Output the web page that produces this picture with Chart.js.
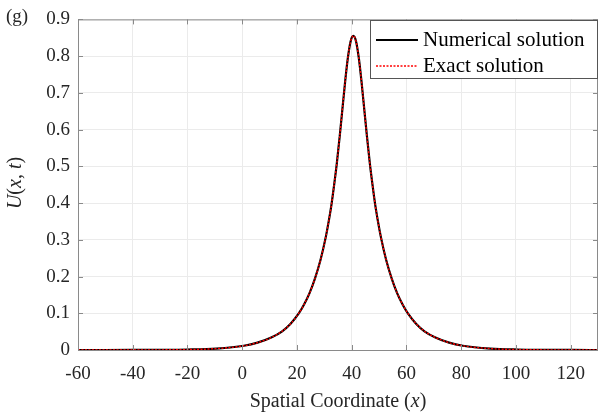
<!DOCTYPE html>
<html>
<head>
<meta charset="utf-8">
<script src="https://cdn.jsdelivr.net/npm/chart.js@4.4.1/dist/chart.umd.min.js"></script>
<style>
html, body { margin: 0; padding: 0; background: #fff; }
#wrap { width: 600px; height: 419px; }
</style>
</head>
<body>
<div id="wrap"><canvas id="myChart"></canvas></div>
<script>
// values
var xValues = [-60, -50, -40, -30, -20, -9.4, 0.6, 5.6, 10.6, 14.6, 17.6, 20.6, 22.6, 24.6, 26.6, 28.6, 30.6, 31.6, 32.6, 33.6, 34.6, 35.6, 36.6, 37.6, 38.6, 39.6,
               40.6,
               41.6, 42.6, 43.6, 44.6, 45.6, 46.6, 47.6, 48.6, 49.6, 50.6, 52.6, 54.6, 56.6, 58.6, 60.6, 63.6, 66.6, 70.6, 75.6, 80.6, 90.6, 100.6, 110.6, 120.6, 130];
var numericalValues = [0, 0.00004, 0.00012, 0.0004, 0.0012, 0.0038, 0.0115, 0.02, 0.034, 0.051, 0.071, 0.099, 0.124, 0.155, 0.195, 0.245, 0.31, 0.35, 0.395, 0.45, 0.51, 0.58, 0.655, 0.73, 0.795, 0.84,
                       0.855,
                       0.84, 0.795, 0.73, 0.655, 0.58, 0.51, 0.45, 0.395, 0.35, 0.31, 0.245, 0.195, 0.155, 0.124, 0.099, 0.071, 0.051, 0.034, 0.02, 0.0115, 0.0038, 0.0012, 0.0004, 0.00012, 0.00004];
var exactValues = [0, 0.00004, 0.00012, 0.0004, 0.0012, 0.0038, 0.0115, 0.02, 0.034, 0.051, 0.071, 0.099, 0.124, 0.155, 0.195, 0.245, 0.31, 0.35, 0.395, 0.45, 0.51, 0.58, 0.655, 0.73, 0.795, 0.84,
                   0.855,
                   0.84, 0.795, 0.73, 0.655, 0.58, 0.51, 0.45, 0.395, 0.35, 0.31, 0.245, 0.195, 0.155, 0.124, 0.099, 0.071, 0.051, 0.034, 0.02, 0.0115, 0.0038, 0.0012, 0.0004, 0.00012, 0.00004];
var xTicks = [-60, -40, -20, 0, 20, 40, 60, 80, 100, 120];
var yTicks = [0, 0.1, 0.2, 0.3, 0.4, 0.5, 0.6, 0.7, 0.8, 0.9];
var seriesNames = ['Numerical solution', 'Exact solution'];

var serif = '"Liberation Serif", "Times New Roman", serif';
var textColor = '#262626';

function toPoints(xs, ys) {
    return xs.map(function (x, i) { return { x: x, y: ys[i] }; });
}

// draws text made of normal / italic pieces
function drawParts(ctx, parts, x, y, size) {
    var total = 0;
    parts.forEach(function (p) {
        ctx.font = (p[1] ? 'italic ' : '') + size + 'px ' + serif;
        total += ctx.measureText(p[0]).width;
    });
    var cx = x - total / 2;
    parts.forEach(function (p) {
        ctx.font = (p[1] ? 'italic ' : '') + size + 'px ' + serif;
        ctx.fillText(p[0], cx, y);
        cx += ctx.measureText(p[0]).width;
    });
}

var boxPlugin = {
    id: 'box',
    afterDatasetsDraw: function (chart) {
        var ctx = chart.ctx, a = chart.chartArea;
        var xs = chart.scales.x, ys = chart.scales.y;
        ctx.save();
        ctx.strokeStyle = '#8a8a8a';
        ctx.lineWidth = 1;
        ctx.strokeRect(a.left + 0.5, a.top + 0.5, a.right - a.left - 1, a.bottom - a.top);
        ctx.beginPath();
        xTicks.forEach(function (v) {
            var px = Math.round(xs.getPixelForValue(v)) + 0.5;
            ctx.moveTo(px, a.bottom); ctx.lineTo(px, a.bottom - 5);
            ctx.moveTo(px, a.top); ctx.lineTo(px, a.top + 5);
        });
        yTicks.forEach(function (v) {
            var py = Math.round(ys.getPixelForValue(v)) + 0.5;
            ctx.moveTo(a.left, py); ctx.lineTo(a.left + 5, py);
            ctx.moveTo(a.right, py); ctx.lineTo(a.right - 5, py);
        });
        ctx.stroke();
        ctx.restore();
    },
    afterDraw: function (chart) {
        var ctx = chart.ctx, a = chart.chartArea;
        ctx.save();
        // legend
        var lx = 370, ly = 20, lw = 227, lh = 58;
        ctx.fillStyle = '#fff';
        ctx.fillRect(lx, ly, lw, lh);
        ctx.strokeStyle = '#555';
        ctx.lineWidth = 1;
        ctx.strokeRect(lx + 0.5, ly + 0.5, lw, lh);
        ctx.beginPath();
        ctx.strokeStyle = '#000';
        ctx.lineWidth = 2;
        ctx.moveTo(376, 40); ctx.lineTo(418, 40);
        ctx.stroke();
        ctx.beginPath();
        ctx.strokeStyle = '#ff0000';
        ctx.lineWidth = 1.5;
        ctx.setLineDash([2, 1.5]);
        ctx.moveTo(376, 66); ctx.lineTo(418, 66);
        ctx.stroke();
        ctx.setLineDash([]);
        ctx.fillStyle = '#000';
        ctx.textBaseline = 'middle';
        ctx.textAlign = 'left';
        ctx.font = '21px ' + serif;
        ctx.fillText(seriesNames[0], 423, 40);
        ctx.fillText(seriesNames[1], 423, 66);

        // axis titles
        ctx.fillStyle = textColor;
        drawParts(ctx, [['Spatial Coordinate (', false], ['x', true], [')', false]], (a.left + a.right) / 2, 402, 20);
        ctx.save();
        ctx.translate(16, 183);
        ctx.rotate(-Math.PI / 2);
        drawParts(ctx, [['U', true], ['(', false], ['x', true], [', ', false], ['t', true], [')', false]], 0, 0, 20);
        ctx.restore();

        // panel label
        ctx.font = '19px ' + serif;
        ctx.textAlign = 'left';
        ctx.fillText('(g)', 6, 17);
        ctx.restore();
    }
};

var ctx = document.getElementById('myChart').getContext('2d');
var myChart = new Chart(ctx, {
    type: 'line',
    data: {
        datasets: [{
            label: seriesNames[0],
            data: toPoints(xValues, numericalValues),
            borderColor: '#000000',
            borderWidth: 2.2,
            pointRadius: 0,
            cubicInterpolationMode: 'monotone',
            order: 1,
            clip: 5
        }, {
            label: seriesNames[1],
            data: toPoints(xValues, exactValues),
            borderColor: '#ff0000',
            borderWidth: 1.4,
            borderDash: [2, 1.5],
            pointRadius: 0,
            cubicInterpolationMode: 'monotone',
            order: 0,
            clip: 5
        }]
    },
    options: {
        responsive: true,
        maintainAspectRatio: false,
        animation: false,
        layout: { padding: { left: 0, right: 2, top: 16, bottom: 0 } },
        plugins: {
            legend: { display: false },
            tooltip: { enabled: false }
        },
        scales: {
            x: {
                type: 'linear',
                min: -60,
                max: 130,
                afterBuildTicks: function (scale) {
                    scale.ticks = xTicks.map(function (v) { return { value: v }; });
                },
                afterFit: function (scale) { scale.height = 69; },
                grid: { color: '#ebebeb', drawTicks: false },
                border: { display: false },
                ticks: {
                    padding: 13,
                    maxRotation: 0,
                    autoSkip: false,
                    color: textColor,
                    font: { family: serif, size: 19 }
                }
            },
            y: {
                min: 0,
                max: 0.9,
                afterBuildTicks: function (scale) {
                    scale.ticks = yTicks.map(function (v) { return { value: v }; });
                },
                afterFit: function (scale) { scale.width = 78; },
                grid: { color: '#ebebeb', drawTicks: false },
                border: { display: false },
                ticks: {
                    padding: 8,
                    autoSkip: false,
                    color: textColor,
                    font: { family: serif, size: 19 },
                    callback: function (v) { return v === 0 ? '0' : v.toFixed(1); }
                }
            }
        }
    },
    plugins: [boxPlugin]
});
</script>
</body>
</html>
